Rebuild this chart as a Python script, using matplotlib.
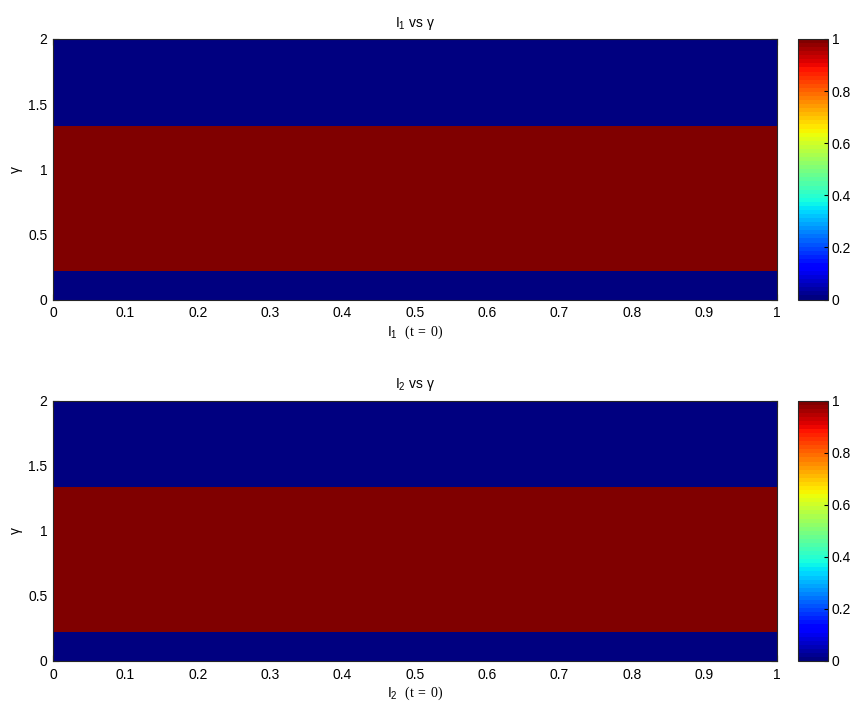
import numpy as np
import matplotlib
matplotlib.use("Agg")
import matplotlib.pyplot as plt

plt.rcParams["font.family"] = ["Liberation Sans", "DejaVu Sans"]
plt.rcParams["mathtext.fontset"] = "custom"
plt.rcParams["mathtext.rm"] = "Liberation Serif"
plt.rcParams["mathtext.sf"] = "Liberation Sans"
plt.rcParams["mathtext.it"] = "Liberation Serif:italic"

# Grid of initial values (x) and gamma (y); band edges along gamma
i_edges = [0.0, 1.0]
gamma_edges = [0.0, 0.222, 1.333, 2.0]

# Indicator value per gamma band for each panel
values_i1 = [0, 1, 0]
values_i2 = [0, 1, 0]

titles = [r"I$_{\mathsf{1}}$ vs γ", r"I$_{\mathsf{2}}$ vs γ"]
xlabels = [r"I$_{\mathsf{1}}$  $\mathrm{(t\;=\;0)}$", r"I$_{\mathsf{2}}$  $\mathrm{(t\;=\;0)}$"]
xticks = np.round(np.arange(0, 1.01, 0.1), 1)
xticklabels = ["0", "0.1", "0.2", "0.3", "0.4", "0.5", "0.6", "0.7", "0.8", "0.9", "1"]
yticks = [0, 0.5, 1, 1.5, 2]
yticklabels = ["0", "0.5", "1", "1.5", "2"]
cticks = [0, 0.2, 0.4, 0.6, 0.8, 1]
cticklabels = ["0", "0.2", "0.4", "0.6", "0.8", "1"]

cmap = plt.get_cmap("jet", 64)

fig = plt.figure(figsize=(8.55, 7.06), dpi=100)
W, H = 855, 706

panels = [
    (values_i1, 39, 299.5),
    (values_i2, 400.5, 661),
]

for k, (vals, top, bot) in enumerate(panels):
    ax = fig.add_axes([53 / W, 1 - bot / H, (776.5 - 53) / W, (bot - top) / H])
    Z = np.array(vals, dtype=float).reshape(-1, 1)
    mesh = ax.pcolormesh(i_edges, gamma_edges, Z, cmap=cmap, vmin=0, vmax=1,
                         shading="flat")
    ax.set_axisbelow(True)
    ax.set_xlim(0, 1)
    ax.set_ylim(0, 2)
    ax.set_xticks(xticks)
    ax.set_xticklabels(xticklabels)
    ax.set_yticks(yticks)
    ax.set_yticklabels(yticklabels)
    ax.tick_params(direction="in", length=4, labelsize=10, pad=4,
                   top=True, right=True)
    ax.tick_params(axis="x", pad=5)
    for s in ax.spines.values():
        s.set_linewidth(0.8)
        s.set_color("#262626")
    ax.set_title(titles[k], fontsize=10, pad=9)
    ax.set_xlabel(xlabels[k], fontsize=10, labelpad=2)
    ax.set_ylabel("γ", fontsize=10)
    ax.yaxis.set_label_coords(-0.042, 0.5)

    cax = fig.add_axes([798 / W, 1 - bot / H, 29.5 / W, (bot - top) / H])
    cb = fig.colorbar(mesh, cax=cax)
    cb.set_ticks(cticks)
    cb.set_ticklabels(cticklabels)
    cax.tick_params(direction="in", length=3, labelsize=10, pad=3)
    cb.outline.set_linewidth(0.8)
    cb.outline.set_edgecolor("#262626")

fig.savefig("out.png", dpi=100)
